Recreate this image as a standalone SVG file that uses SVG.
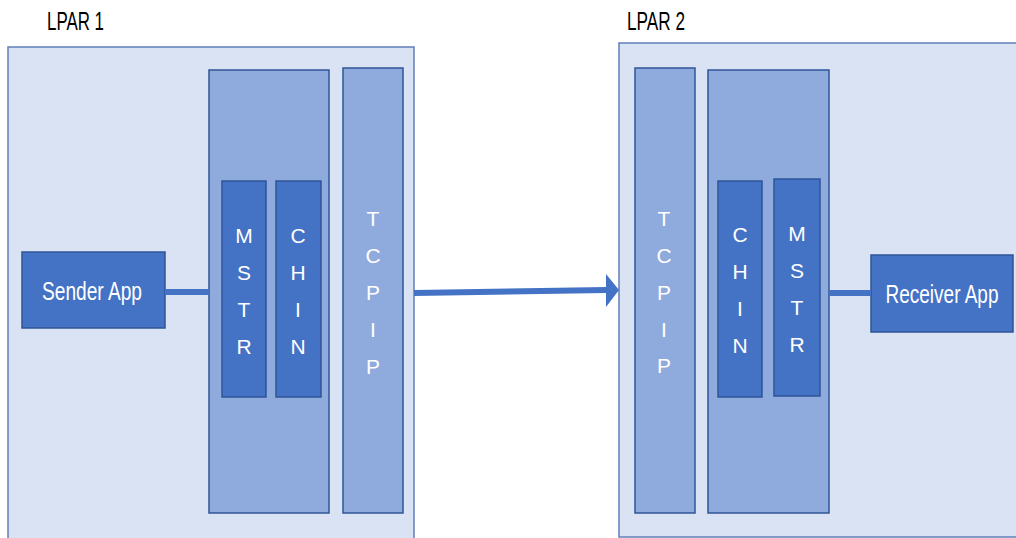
<svg xmlns="http://www.w3.org/2000/svg" width="1016" height="538" viewBox="0 0 1016 538">
<style>
.lpar{fill:#DAE3F3;stroke:#5F7FB8;stroke-width:1.5}
.mid{fill:#8FAADC;stroke:#2F5597;stroke-width:1.5}
.dark{fill:#4472C4;stroke:#2F5597;stroke-width:1.5}
.title{font-family:"Liberation Sans",Arial,sans-serif;font-size:25px;fill:#000}
.lbl{font-family:"Liberation Sans",Arial,sans-serif;font-size:26px;fill:#fff;text-anchor:middle}
.v{font-family:"Liberation Sans",Arial,sans-serif;font-size:21px;fill:#fff;text-anchor:middle}
.conn{stroke:#4472C4;stroke-width:6;fill:none}
</style>
<rect width="1016" height="538" fill="#fff"/>
<g id="lpar1">
<rect class="lpar" x="8" y="47" width="406" height="500"/>
<text class="title" x="47" y="30" textLength="57" lengthAdjust="spacingAndGlyphs">LPAR 1</text>
</g>
<g id="lpar2">
<rect class="lpar" x="619" y="43" width="410" height="494"/>
<text class="title" x="627" y="30" textLength="58" lengthAdjust="spacingAndGlyphs">LPAR 2</text>
</g>
<g id="stack1">
<rect class="mid" x="209" y="70" width="120" height="443"/>
</g>
<g id="tcpip1">
<rect class="mid" x="343" y="68" width="60" height="445"/>
<text class="v"><tspan x="373" y="226">T</tspan><tspan x="373" y="263">C</tspan><tspan x="373" y="300">P</tspan><tspan x="373" y="337">I</tspan><tspan x="373" y="374">P</tspan></text>
</g>
<g id="mstr1">
<rect class="dark" x="222" y="181" width="44" height="216"/>
<text class="v"><tspan x="244" y="243">M</tspan><tspan x="244" y="280">S</tspan><tspan x="244" y="317">T</tspan><tspan x="244" y="354">R</tspan></text>
</g>
<g id="chin1">
<rect class="dark" x="276" y="181" width="45" height="216"/>
<text class="v"><tspan x="298" y="243">C</tspan><tspan x="298" y="280">H</tspan><tspan x="298" y="317">I</tspan><tspan x="298" y="354">N</tspan></text>
</g>
<g id="sender">
<rect class="dark" x="22" y="252" width="143" height="76"/>
<text class="lbl" x="92" y="300" textLength="100" lengthAdjust="spacingAndGlyphs">Sender App</text>
</g>
<g id="stack2">
<rect class="mid" x="708" y="70" width="121" height="443"/>
</g>
<g id="tcpip2">
<rect class="mid" x="635" y="68" width="60" height="445"/>
<text class="v"><tspan x="664" y="226">T</tspan><tspan x="664" y="263">C</tspan><tspan x="664" y="300">P</tspan><tspan x="664" y="337">I</tspan><tspan x="664" y="373">P</tspan></text>
</g>
<g id="chin2">
<rect class="dark" x="718" y="181" width="44" height="216"/>
<text class="v"><tspan x="740" y="242">C</tspan><tspan x="740" y="279">H</tspan><tspan x="740" y="316">I</tspan><tspan x="740" y="353">N</tspan></text>
</g>
<g id="mstr2">
<rect class="dark" x="774" y="179" width="46" height="217"/>
<text class="v"><tspan x="797" y="241">M</tspan><tspan x="797" y="278">S</tspan><tspan x="797" y="315">T</tspan><tspan x="797" y="352">R</tspan></text>
</g>
<g id="receiver">
<rect class="dark" x="871" y="255" width="142" height="77"/>
<text class="lbl" x="942" y="303" textLength="113" lengthAdjust="spacingAndGlyphs">Receiver App</text>
</g>
<g id="connectors">
<line class="conn" x1="165" y1="292" x2="209" y2="292"/>
<line class="conn" x1="829" y1="293" x2="871" y2="293"/>
<line class="conn" x1="414" y1="293" x2="607" y2="290"/>
<polygon points="606,274 619,290 606,307" fill="#4472C4"/>
</g>
</svg>
